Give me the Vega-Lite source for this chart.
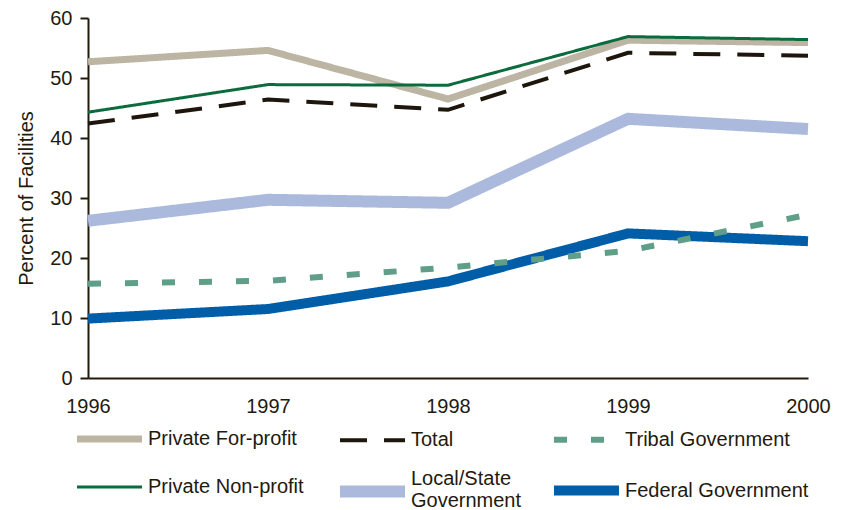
{
  "$schema": "https://vega.github.io/schema/vega-lite/v6.json",
  "width": 720,
  "height": 360,
  "autosize": {"type": "none"},
  "padding": {"left": 88, "top": 18, "right": 33, "bottom": 132},
  "background": "white",
  "config": {
    "view": {"stroke": null},
    "font": "Arial",
    "axis": {"labelFont": "Arial", "titleFont": "Arial", "labelColor": "#231a0e", "titleColor": "#231a0e", "domainColor": "#231a0e", "tickColor": "#231a0e", "grid": false}
  },
  "data": {
    "values": [
      {"series": "Local/State Government", "year": 1996, "pct": 26.2},
      {"series": "Local/State Government", "year": 1997, "pct": 29.7},
      {"series": "Local/State Government", "year": 1998, "pct": 29.2},
      {"series": "Local/State Government", "year": 1999, "pct": 43.2},
      {"series": "Local/State Government", "year": 2000, "pct": 41.5},
      {"series": "Federal Government", "year": 1996, "pct": 9.9},
      {"series": "Federal Government", "year": 1997, "pct": 11.5},
      {"series": "Federal Government", "year": 1998, "pct": 16.1},
      {"series": "Federal Government", "year": 1999, "pct": 24.1},
      {"series": "Federal Government", "year": 2000, "pct": 22.8},
      {"series": "Tribal Government", "year": 1996, "pct": 15.7},
      {"series": "Tribal Government", "year": 1997, "pct": 16.2},
      {"series": "Tribal Government", "year": 1998, "pct": 18.4},
      {"series": "Tribal Government", "year": 1999, "pct": 21.2},
      {"series": "Tribal Government", "year": 2000, "pct": 27.2},
      {"series": "Private For-profit", "year": 1996, "pct": 52.7},
      {"series": "Private For-profit", "year": 1997, "pct": 54.6},
      {"series": "Private For-profit", "year": 1998, "pct": 46.5},
      {"series": "Private For-profit", "year": 1999, "pct": 56.3},
      {"series": "Private For-profit", "year": 2000, "pct": 55.9},
      {"series": "Total", "year": 1996, "pct": 42.4},
      {"series": "Total", "year": 1997, "pct": 46.4},
      {"series": "Total", "year": 1998, "pct": 44.7},
      {"series": "Total", "year": 1999, "pct": 54.2},
      {"series": "Total", "year": 2000, "pct": 53.7},
      {"series": "Private Non-profit", "year": 1996, "pct": 44.3},
      {"series": "Private Non-profit", "year": 1997, "pct": 48.9},
      {"series": "Private Non-profit", "year": 1998, "pct": 48.8},
      {"series": "Private Non-profit", "year": 1999, "pct": 56.9},
      {"series": "Private Non-profit", "year": 2000, "pct": 56.4}
    ]
  },
  "mark": {"type": "line", "strokeCap": "butt", "strokeJoin": "miter"},
  "encoding": {
    "x": {
      "field": "year", "type": "quantitative",
      "scale": {"domain": [1996, 2000]},
      "axis": {"title": null, "values": [1996, 1997, 1998, 1999, 2000], "format": "d", "labelFontSize": 20, "ticks": false, "labelPadding": 18, "domainWidth": 2, "labelFlush": false}
    },
    "y": {
      "field": "pct", "type": "quantitative",
      "scale": {"domain": [0, 60]},
      "axis": {"title": "Percent of Facilities", "titleFontSize": 20, "titleFontWeight": "normal", "titlePadding": 13, "values": [0, 10, 20, 30, 40, 50, 60], "labelFontSize": 20, "tickSize": 8, "tickWidth": 2, "domainWidth": 2, "labelPadding": 8}
    },
    "color": {
      "field": "series", "type": "nominal",
      "scale": {
        "domain": ["Private For-profit", "Total", "Tribal Government", "Private Non-profit", "Local/State Government", "Federal Government"],
        "range": ["#bcb5a4", "#1e160c", "#5f9f88", "#0b6b3d", "#aab9dc", "#005da8"]
      },
      "legend": {
        "title": null, "orient": "none", "legendX": -17, "legendY": 385,
        "direction": "horizontal", "columns": 3, "gridAlign": "each",
        "columnPadding": 12, "rowPadding": -7,
        "symbolType": "stroke", "symbolSize": 4225,
        "labelFontSize": 20, "labelColor": "#231a0e", "labelFont": "Arial", "labelLimit": 300, "labelOffset": 0,
        "labelExpr": "datum.label == 'Local/State Government' ? ['Local/State', 'Government'] : datum.label",
        "encode": {
          "labels": {
            "update": {
              "lineHeight": {"value": 22},
              "dy": {"signal": "datum.value == 'Local/State Government' ? -13 : 0"}
            }
          }
        }
      }
    },
    "strokeWidth": {
      "field": "series", "type": "nominal",
      "scale": {
        "type": "ordinal",
        "domain": ["Private For-profit", "Total", "Tribal Government", "Private Non-profit", "Local/State Government", "Federal Government"],
        "range": [7, 4, 6, 3, 12, 10]
      }
    },
    "strokeDash": {
      "field": "series", "type": "nominal",
      "scale": {
        "domain": ["Private For-profit", "Total", "Tribal Government", "Private Non-profit", "Local/State Government", "Federal Government"],
        "range": [[1, 0], [27, 17], [13, 24], [1, 0], [1, 0], [1, 0]]
      }
    }
  }
}
